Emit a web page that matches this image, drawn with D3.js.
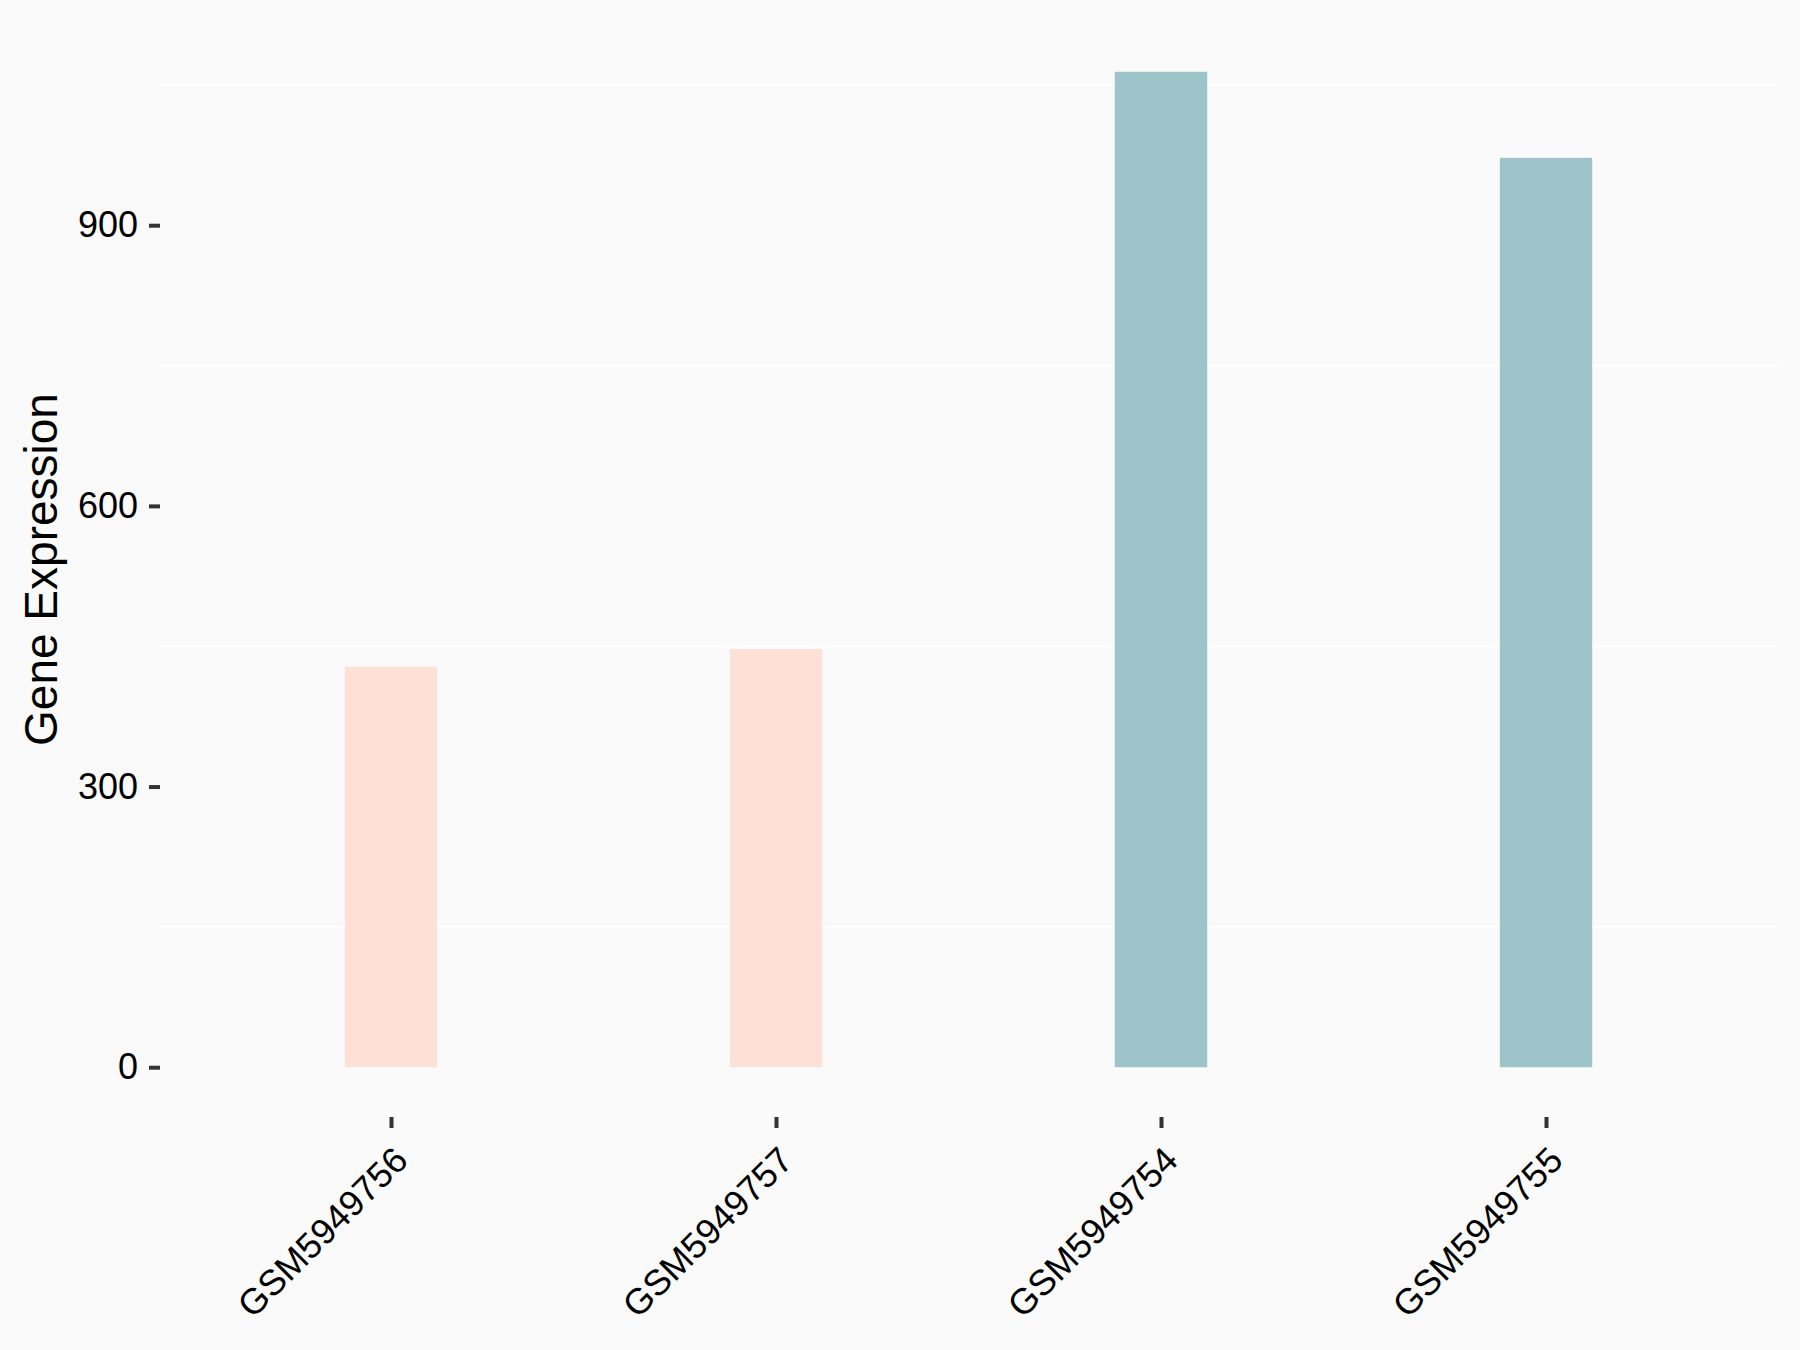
<!DOCTYPE html>
<html>
<head>
<meta charset="utf-8">
<script src="https://cdn.jsdelivr.net/npm/d3@7"></script>
<style>
  body { margin: 0; background: #FAFAFA; }
  text { font-family: "Liberation Sans", Arial, sans-serif; }
</style>
</head>
<body>
<div id="chart"></div>
<script>
// sample names, left to right
var samples = ["GSM5949756", "GSM5949757", "GSM5949754", "GSM5949755"];
var expression = [428, 447, 1064, 972];
var groups = ["a", "a", "b", "b"];
var yTicks = [0, 300, 600, 900];
var minorTicks = [150, 450, 750, 1050];

var width = 1800, height = 1350;
var panel = {left: 160, right: 1777, top: 22, bottom: 1117};

var svg = d3.select("#chart").append("svg")
    .attr("width", width)
    .attr("height", height);

svg.append("rect")
   .attr("width", width)
   .attr("height", height)
   .attr("fill", "#FAFAFA");

var x = d3.scalePoint()
          .domain(samples)
          .range([panel.left, panel.right])
          .padding(0.6);

var yMax = d3.max(expression);
var y = d3.scaleLinear()
          .domain([-0.05 * yMax, yMax * 1.05])
          .range([panel.bottom, panel.top]);

var color = d3.scaleOrdinal()
              .domain(["a", "b"])
              .range(["#FFE0D6", "#9DC4C8"]);

// minor grid only, white on grey
svg.append("g")
   .selectAll("line")
   .data(minorTicks)
   .enter().append("line")
   .attr("x1", panel.left)
   .attr("x2", panel.right)
   .attr("y1", function(d) { return y(d); })
   .attr("y2", function(d) { return y(d); })
   .attr("stroke", "#FFFFFF")
   .attr("stroke-width", 2);

var barW = x.step() * 0.24;
var data = samples.map(function(s, i) {
    return {sample: s, value: expression[i], group: groups[i]};
});

svg.append("g")
   .selectAll("rect")
   .data(data)
   .enter().append("rect")
   .attr("x", function(d) { return x(d.sample) - barW / 2; })
   .attr("y", function(d) { return y(d.value); })
   .attr("width", barW)
   .attr("height", function(d) { return y(0) - y(d.value); })
   .attr("fill", function(d) { return color(d.group); });

// y axis
var yAxis = svg.append("g")
   .attr("transform", "translate(" + panel.left + ",0)")
   .call(d3.axisLeft(y).tickValues(yTicks).tickSize(11).tickPadding(11));
yAxis.select(".domain").remove();
yAxis.selectAll(".tick line").attr("stroke", "#333333").attr("stroke-width", 4);
yAxis.selectAll(".tick text")
     .attr("fill", "#000")
     .style("font-size", "36px");

// x axis
var xAxis = svg.append("g")
   .attr("transform", "translate(0," + panel.bottom + ")")
   .call(d3.axisBottom(x).tickSize(11));
xAxis.select(".domain").remove();
xAxis.selectAll(".tick line").attr("stroke", "#333333").attr("stroke-width", 4);
xAxis.selectAll(".tick text")
     .attr("fill", "#000")
     .style("font-size", "36px")
     .attr("text-anchor", "end")
     .attr("x", 0)
     .attr("y", 0)
     .attr("dy", "0.72em")
     .attr("transform", "translate(0,27) rotate(-45)");

svg.append("text")
   .attr("transform", "translate(57," + ((panel.top + panel.bottom) / 2) + ") rotate(-90)")
   .attr("text-anchor", "middle")
   .style("font-size", "46px")
   .attr("fill", "#000")
   .text("Gene Expression");
</script>
</body>
</html>
